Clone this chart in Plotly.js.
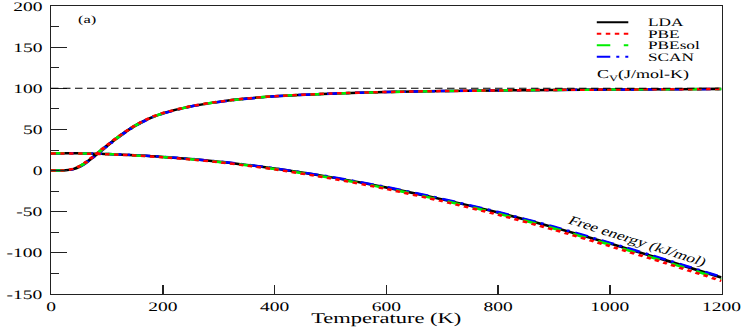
<!DOCTYPE html>
<html>
<head>
<meta charset="utf-8">
<script src="https://cdn.plot.ly/plotly-3.0.1.min.js"></script>
<style>
  html, body { margin: 0; padding: 0; background: #fff; overflow: hidden; }
  /* the source figure is stretched sideways, so draw narrow and widen */
  #chart { width: 498px; height: 327px; transform: scaleX(1.5); transform-origin: 0 0; }
  #chart svg text { text-rendering: geometricPrecision; }
</style>
</head>
<body>
<div id="chart"></div>
<script>
const temps = [0, 20, 40, 50, 60, 70, 80, 90, 100, 120, 140, 160, 180, 200, 250, 300, 350, 400, 500, 600, 700, 800, 900, 1000, 1100, 1200];

// heat capacity, J/mol-K
const cvLDA    = [0, 0.1, 1.8, 4.5, 8.5, 13.5, 19.0, 24.5, 30.0, 40.5, 50.0, 58.0, 64.5, 69.5, 78.0, 83.5, 87.5, 90.3, 93.5, 95.4, 96.6, 97.4, 98.0, 98.5, 98.8, 99.1];
const cvPBE    = [0, 0.1, 2.0, 4.9, 9.0, 14.1, 19.6, 25.1, 30.6, 41.0, 50.5, 58.4, 64.9, 69.8, 78.2, 83.7, 87.6, 90.4, 93.6, 95.5, 96.6, 97.4, 98.0, 98.5, 98.8, 99.1];
const cvPBEsol = [0, 0.1, 1.9, 4.7, 8.7, 13.8, 19.3, 24.8, 30.3, 40.7, 50.2, 58.2, 64.7, 69.6, 78.1, 83.6, 87.5, 90.3, 93.5, 95.4, 96.6, 97.4, 98.0, 98.5, 98.8, 99.1];
const cvSCAN   = [0, 0.1, 1.7, 4.4, 8.3, 13.2, 18.7, 24.2, 29.7, 40.2, 49.8, 57.8, 64.3, 69.3, 77.9, 83.4, 87.4, 90.2, 93.5, 95.4, 96.6, 97.4, 98.0, 98.5, 98.8, 99.1];

// free energy, kJ/mol
const fLDA    = [21.0, 21.0, 21.0, 20.9, 20.8, 20.7, 20.5, 20.3, 20.1, 19.6, 19.0, 18.3, 17.5, 16.6, 14.0, 10.8, 6.9, 2.5, -8.0, -20.5, -35.0, -51.0, -69.0, -88.5, -109.0, -130.0];
const fPBE    = [20.8, 20.8, 20.8, 20.7, 20.6, 20.5, 20.3, 20.1, 19.9, 19.3, 18.7, 18.0, 17.1, 16.2, 13.5, 10.2, 6.1, 1.5, -9.4, -22.3, -37.2, -53.6, -71.9, -91.8, -112.6, -134.0];
const fPBEsol = [20.9, 20.9, 20.9, 20.8, 20.7, 20.6, 20.4, 20.2, 20.0, 19.5, 18.8, 18.1, 17.3, 16.4, 13.8, 10.5, 6.5, 2.0, -8.7, -21.4, -36.1, -52.3, -70.4, -90.1, -110.8, -132.0];
const fSCAN   = [21.1, 21.1, 21.1, 21.0, 20.9, 20.8, 20.6, 20.4, 20.2, 19.7, 19.1, 18.4, 17.6, 16.7, 14.2, 11.0, 7.1, 2.8, -7.6, -20.0, -34.4, -50.4, -68.3, -87.8, -108.2, -129.3];

const seriesNames = ['LDA', 'PBE', 'PBEsol', 'SCAN'];
const cvLimit = 100;  // high-T limit line

const yTickVals = [-150, -100, -50, 0, 50, 100, 150, 200];
const yTickText = ['-150', '-100', '-50', '0', '50', '100', '150', '200'];

const FONT = 'Liberation Serif';
const styles = {
  LDA:    { color: '#000000', dash: 'solid' },
  PBE:    { color: '#ff0000', dash: 'dot' },
  PBEsol: { color: '#00ee00', dash: 'dash' },
  SCAN:   { color: '#0000ff', dash: '9px,4px,2px,4px' },
};
const cvData = { LDA: cvLDA, PBE: cvPBE, PBEsol: cvPBEsol, SCAN: cvSCAN };
const fData  = { LDA: fLDA, PBE: fPBE, PBEsol: fPBEsol, SCAN: fSCAN };

// draw order: black first, red dots last
const order = ['LDA', 'SCAN', 'PBEsol', 'PBE'];
const traces = [];
order.forEach(name => {
  [cvData, fData].forEach(set => {
    traces.push({
      x: temps, y: set[name],
      type: 'scatter', mode: 'lines', name: name,
      line: { color: styles[name].color, dash: styles[name].dash, width: 2.5, shape: 'spline', smoothing: 0.6 },
      showlegend: false, hoverinfo: 'skip',
    });
  });
});

// hand-made legend (plotly's rows are too tall for this one)
const shapes = [{
  type: 'line', xref: 'x', yref: 'y',
  x0: temps[0], x1: temps[temps.length - 1], y0: cvLimit, y1: cvLimit,
  line: { color: '#000', width: 1, dash: '5px,3px' },
}];
const annotations = [];
seriesNames.forEach((name, i) => {
  const yy = 0.944 - i * 0.04;
  shapes.push({
    type: 'line', xref: 'paper', yref: 'paper',
    x0: 0.814, x1: 0.861, y0: yy, y1: yy,
    line: { color: styles[name].color, dash: styles[name].dash, width: 2 },
  });
  annotations.push({
    xref: 'paper', yref: 'paper', x: 0.888, y: yy, xanchor: 'left', yanchor: 'middle',
    text: name, showarrow: false, borderpad: 0, font: { family: FONT, size: 11.5, color: '#000' },
  });
});
annotations.push(
  { xref: 'x', yref: 'y', x: 67, y: 184, text: '(a)', showarrow: false,
    font: { family: FONT, size: 11, color: '#000' } },
  { xref: 'x', yref: 'y', x: 1060, y: 116, text: 'C<sub>V</sub>(J/mol-K)', showarrow: false,
    font: { family: FONT, size: 12, color: '#000' } },
  { xref: 'x', yref: 'y', x: 1050, y: -85, text: 'Free energy (kJ/mol)', showarrow: false,
    textangle: 25.6, font: { family: FONT, size: 12, color: '#000' } }
);

const axisBase = {
  showline: true, linecolor: '#222', linewidth: 1.3, mirror: true,
  showgrid: false, zeroline: false, ticks: 'inside', tickcolor: '#222',
  tickfont: { family: FONT, size: 13, color: '#000' }, ticklabeloverflow: 'allow',
};

Plotly.newPlot('chart', traces, {
  width: 498, height: 327,
  margin: { l: 34, r: 16.7, t: 6, b: 33 },
  paper_bgcolor: '#fff', plot_bgcolor: '#fff',
  font: { family: FONT, color: '#000' },
  xaxis: {
    ...axisBase, range: [0, 1200], dtick: 200, tick0: 0, ticklen: 9, tickwidth: 1.2,
    title: { text: 'Temperature (K)', font: { family: FONT, size: 15, color: '#000' }, standoff: 2 },
  },
  yaxis: {
    ...axisBase, range: [-150, 200], tickmode: 'array', tickvals: yTickVals, ticktext: yTickText,
    ticklen: 10.7, tickwidth: 1.3, ticklabelstandoff: 2,
    minor: { ticks: 'inside', dtick: 25, tick0: 0, ticklen: 5.3, tickwidth: 1.3, tickcolor: '#222' },
  },
  shapes: shapes,
  annotations: annotations,
}, { displayModeBar: false });
</script>
</body>
</html>
